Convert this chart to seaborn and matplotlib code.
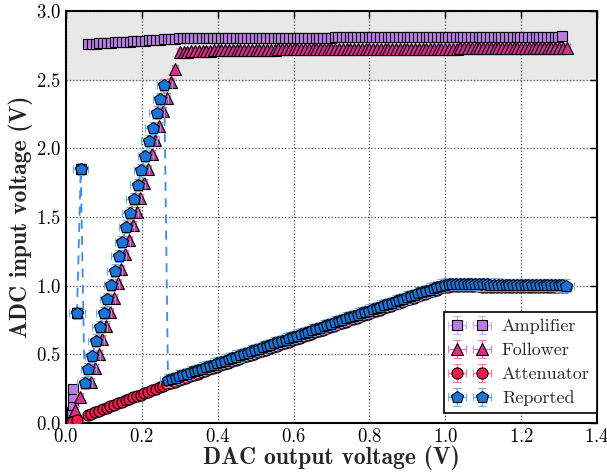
import matplotlib
matplotlib.use('Agg')
import matplotlib.pyplot as plt
import seaborn as sns

# Amplifier
amp_x = [0.016, 0.017, 0.018, 0.018, 0.019, 0.029, 0.039, 0.058, 0.068, 0.078,
         0.088, 0.098, 0.108, 0.118, 0.128, 0.138, 0.148, 0.158, 0.168, 0.178,
         0.188, 0.198, 0.208, 0.218, 0.228, 0.238, 0.248, 0.258, 0.268, 0.278,
         0.288, 0.298, 0.308, 0.318, 0.328, 0.338, 0.348, 0.358, 0.368, 0.378,
         0.388, 0.398, 0.408, 0.418, 0.428, 0.438, 0.448, 0.458, 0.468, 0.478,
         0.488, 0.498, 0.508, 0.518, 0.528, 0.538, 0.548, 0.558, 0.568, 0.578,
         0.588, 0.598, 0.608, 0.618, 0.628, 0.638, 0.648, 0.658, 0.668, 0.678,
         0.688, 0.698, 0.708, 0.718, 0.728, 0.738, 0.748, 0.758, 0.768, 0.778,
         0.788, 0.798, 0.808, 0.818, 0.828, 0.838, 0.848, 0.858, 0.868, 0.878,
         0.888, 0.898, 0.908, 0.918, 0.928, 0.938, 0.948, 0.958, 0.968, 0.978,
         0.988, 0.998, 1.008, 1.018, 1.028, 1.038, 1.048, 1.058, 1.068, 1.078,
         1.088, 1.098, 1.108, 1.118, 1.128, 1.138, 1.148, 1.158, 1.168, 1.178,
         1.188, 1.198, 1.208, 1.218, 1.228, 1.238, 1.248, 1.258, 1.268, 1.278,
         1.288, 1.298, 1.308]
amp_y = [0.04, 0.08, 0.13, 0.19, 0.25, 0.80, 1.85, 2.760, 2.762, 2.763,
         2.765, 2.767, 2.768, 2.770, 2.772, 2.773, 2.775, 2.777, 2.778, 2.780,
         2.782, 2.783, 2.785, 2.787, 2.788, 2.790, 2.792, 2.793, 2.795, 2.797,
         2.798, 2.800, 2.800, 2.801, 2.801, 2.801, 2.802, 2.802, 2.802, 2.802,
         2.803, 2.803, 2.803, 2.803, 2.803, 2.804, 2.804, 2.804, 2.804, 2.804,
         2.805, 2.805, 2.805, 2.805, 2.805, 2.805, 2.806, 2.806, 2.806, 2.806,
         2.806, 2.806, 2.806, 2.806, 2.807, 2.807, 2.807, 2.807, 2.807, 2.807,
         2.807, 2.807, 2.808, 2.808, 2.808, 2.808, 2.808, 2.808, 2.808, 2.808,
         2.808, 2.809, 2.809, 2.809, 2.809, 2.809, 2.809, 2.809, 2.809, 2.809,
         2.810, 2.810, 2.810, 2.810, 2.810, 2.810, 2.810, 2.810, 2.810, 2.810,
         2.810, 2.811, 2.811, 2.811, 2.811, 2.811, 2.811, 2.811, 2.811, 2.811,
         2.811, 2.811, 2.812, 2.812, 2.812, 2.812, 2.812, 2.812, 2.812, 2.812,
         2.812, 2.812, 2.812, 2.813, 2.813, 2.813, 2.813, 2.813, 2.813, 2.813,
         2.814, 2.814, 2.815]

# Follower
fol_x = [0.018, 0.025, 0.038, 0.066, 0.076, 0.086, 0.096, 0.106, 0.116, 0.126,
         0.136, 0.146, 0.156, 0.166, 0.176, 0.186, 0.196, 0.206, 0.216, 0.226,
         0.236, 0.246, 0.256, 0.266, 0.276, 0.288, 0.300, 0.310, 0.320, 0.330,
         0.340, 0.350, 0.360, 0.370, 0.380, 0.390, 0.400, 0.410, 0.420, 0.430,
         0.440, 0.450, 0.460, 0.470, 0.480, 0.490, 0.500, 0.510, 0.520, 0.530,
         0.540, 0.550, 0.560, 0.570, 0.580, 0.590, 0.600, 0.610, 0.620, 0.630,
         0.640, 0.650, 0.660, 0.670, 0.680, 0.690, 0.700, 0.710, 0.720, 0.730,
         0.740, 0.750, 0.760, 0.770, 0.780, 0.790, 0.800, 0.810, 0.820, 0.830,
         0.840, 0.850, 0.860, 0.870, 0.880, 0.890, 0.900, 0.910, 0.920, 0.930,
         0.940, 0.950, 0.960, 0.970, 0.980, 0.990, 1.000, 1.010, 1.020, 1.030,
         1.040, 1.050, 1.060, 1.070, 1.080, 1.090, 1.100, 1.110, 1.120, 1.130,
         1.140, 1.150, 1.160, 1.170, 1.180, 1.190, 1.200, 1.210, 1.220, 1.230,
         1.240, 1.250, 1.260, 1.270, 1.280, 1.290, 1.300, 1.310, 1.320]
fol_y = [0.04, 0.095, 0.19, 0.30, 0.40, 0.50, 0.61, 0.71, 0.81, 0.91,
         1.02, 1.12, 1.23, 1.33, 1.44, 1.54, 1.64, 1.75, 1.85, 1.96,
         2.06, 2.16, 2.27, 2.37, 2.48, 2.58, 2.700, 2.702, 2.704, 2.706,
         2.708, 2.709, 2.710, 2.711, 2.712, 2.713, 2.714, 2.714, 2.715, 2.715,
         2.716, 2.716, 2.717, 2.717, 2.717, 2.718, 2.718, 2.718, 2.719, 2.719,
         2.719, 2.719, 2.720, 2.720, 2.720, 2.720, 2.720, 2.721, 2.721, 2.721,
         2.721, 2.721, 2.722, 2.722, 2.722, 2.722, 2.722, 2.722, 2.723, 2.723,
         2.723, 2.723, 2.723, 2.723, 2.724, 2.724, 2.724, 2.724, 2.724, 2.724,
         2.725, 2.725, 2.725, 2.725, 2.725, 2.725, 2.726, 2.726, 2.726, 2.726,
         2.726, 2.726, 2.726, 2.727, 2.727, 2.727, 2.727, 2.727, 2.727, 2.727,
         2.728, 2.728, 2.728, 2.728, 2.728, 2.728, 2.728, 2.728, 2.729, 2.729,
         2.729, 2.729, 2.729, 2.729, 2.729, 2.729, 2.730, 2.730, 2.730, 2.730,
         2.730, 2.730, 2.730, 2.730, 2.731, 2.731, 2.731, 2.731, 2.731]

# Attenuator
att_x = [0.015, 0.030, 0.057, 0.067, 0.077, 0.087, 0.097, 0.107, 0.117, 0.127,
         0.137, 0.147, 0.157, 0.167, 0.177, 0.187, 0.197, 0.207, 0.217, 0.227,
         0.237, 0.247, 0.257, 0.267, 0.277, 0.287, 0.297, 0.307, 0.317, 0.327,
         0.337, 0.347, 0.357, 0.367, 0.377, 0.387, 0.397, 0.407, 0.417, 0.427,
         0.437, 0.447, 0.457, 0.467, 0.477, 0.487, 0.497, 0.507, 0.517, 0.527,
         0.537, 0.547, 0.557, 0.567, 0.577, 0.587, 0.597, 0.607, 0.617, 0.627,
         0.637, 0.647, 0.657, 0.667, 0.677, 0.687, 0.697, 0.707, 0.717, 0.727,
         0.737, 0.747, 0.757, 0.767, 0.777, 0.787, 0.797, 0.807, 0.817, 0.827,
         0.837, 0.847, 0.857, 0.867, 0.877, 0.887, 0.897, 0.907, 0.917, 0.927,
         0.937, 0.947, 0.957, 0.967, 0.977, 0.987, 0.997, 1.007, 1.017, 1.027,
         1.037, 1.047, 1.057, 1.067, 1.077, 1.087, 1.097, 1.107, 1.117, 1.127,
         1.137, 1.147, 1.157, 1.167, 1.177, 1.187, 1.197, 1.207, 1.217, 1.227,
         1.237, 1.247, 1.257, 1.267, 1.277, 1.287, 1.297, 1.307, 1.317]
att_y = [0.010, 0.020, 0.058, 0.069, 0.080, 0.090, 0.101, 0.111, 0.122, 0.133,
         0.143, 0.154, 0.164, 0.175, 0.186, 0.196, 0.207, 0.217, 0.228, 0.239,
         0.249, 0.260, 0.270, 0.283, 0.293, 0.302, 0.312, 0.322, 0.331, 0.341,
         0.351, 0.360, 0.370, 0.380, 0.390, 0.399, 0.409, 0.419, 0.428, 0.438,
         0.448, 0.457, 0.467, 0.477, 0.486, 0.496, 0.506, 0.515, 0.525, 0.535,
         0.544, 0.554, 0.564, 0.574, 0.583, 0.593, 0.603, 0.612, 0.622, 0.632,
         0.641, 0.651, 0.661, 0.670, 0.680, 0.690, 0.699, 0.709, 0.719, 0.728,
         0.738, 0.748, 0.757, 0.767, 0.777, 0.786, 0.796, 0.806, 0.815, 0.825,
         0.835, 0.844, 0.854, 0.864, 0.873, 0.883, 0.893, 0.902, 0.912, 0.922,
         0.932, 0.941, 0.951, 0.961, 0.970, 0.980, 0.989, 0.994, 0.996, 0.996,
         0.996, 0.996, 0.995, 0.995, 0.995, 0.995, 0.994, 0.994, 0.994, 0.994,
         0.994, 0.993, 0.993, 0.993, 0.993, 0.992, 0.992, 0.992, 0.992, 0.992,
         0.991, 0.991, 0.991, 0.991, 0.990, 0.990, 0.990, 0.990, 0.990]

# Reported
rep_x = [0.029, 0.039, 0.049, 0.059, 0.069, 0.079, 0.089, 0.099, 0.109, 0.119,
         0.129, 0.139, 0.149, 0.159, 0.169, 0.179, 0.189, 0.199, 0.209, 0.219,
         0.229, 0.239, 0.249, 0.259, 0.269, 0.279, 0.289, 0.299, 0.309, 0.319,
         0.329, 0.339, 0.349, 0.359, 0.369, 0.379, 0.389, 0.399, 0.409, 0.419,
         0.429, 0.439, 0.449, 0.459, 0.469, 0.479, 0.489, 0.499, 0.509, 0.519,
         0.529, 0.539, 0.549, 0.559, 0.569, 0.579, 0.589, 0.599, 0.609, 0.619,
         0.629, 0.639, 0.649, 0.659, 0.669, 0.679, 0.689, 0.699, 0.709, 0.719,
         0.729, 0.739, 0.749, 0.759, 0.769, 0.779, 0.789, 0.799, 0.809, 0.819,
         0.829, 0.839, 0.849, 0.859, 0.869, 0.879, 0.889, 0.899, 0.909, 0.919,
         0.929, 0.939, 0.949, 0.959, 0.969, 0.979, 0.989, 0.999, 1.009, 1.019,
         1.029, 1.039, 1.049, 1.059, 1.069, 1.079, 1.089, 1.099, 1.109, 1.119,
         1.129, 1.139, 1.149, 1.159, 1.169, 1.179, 1.189, 1.199, 1.209, 1.219,
         1.229, 1.239, 1.249, 1.259, 1.269, 1.279, 1.289, 1.299, 1.309, 1.319]
rep_y = [0.80, 1.85, 0.29, 0.39, 0.49, 0.60, 0.70, 0.80, 0.90, 1.005,
         1.11, 1.215, 1.32, 1.43, 1.53, 1.63, 1.735, 1.84, 1.945, 2.05,
         2.15, 2.26, 2.36, 2.46, 0.310, 0.320, 0.329, 0.339, 0.348, 0.358,
         0.368, 0.377, 0.387, 0.396, 0.406, 0.416, 0.425, 0.435, 0.444, 0.454,
         0.464, 0.473, 0.483, 0.492, 0.502, 0.512, 0.521, 0.531, 0.540, 0.550,
         0.560, 0.569, 0.579, 0.588, 0.598, 0.608, 0.617, 0.627, 0.636, 0.646,
         0.656, 0.665, 0.675, 0.684, 0.694, 0.704, 0.713, 0.723, 0.732, 0.742,
         0.752, 0.761, 0.771, 0.780, 0.790, 0.800, 0.809, 0.819, 0.828, 0.838,
         0.848, 0.857, 0.867, 0.876, 0.886, 0.896, 0.905, 0.915, 0.924, 0.934,
         0.944, 0.953, 0.963, 0.972, 0.982, 0.992, 1.000, 1.008, 1.012, 1.012,
         1.011, 1.011, 1.011, 1.010, 1.010, 1.010, 1.009, 1.009, 1.009, 1.008,
         1.008, 1.008, 1.007, 1.007, 1.007, 1.006, 1.006, 1.006, 1.005, 1.005,
         1.005, 1.004, 1.004, 1.004, 1.003, 1.003, 1.003, 1.002, 1.002, 1.001]

x_ticks = [0.0, 0.2, 0.4, 0.6, 0.8, 1.0, 1.2, 1.4]
y_ticks = [0.0, 0.5, 1.0, 1.5, 2.0, 2.5, 3.0]

sns.set_style('white')
plt.rcParams['font.family'] = ['cmr10', 'DejaVu Serif']
plt.rcParams['axes.formatter.use_mathtext'] = True
plt.rcParams['mathtext.fontset'] = 'cm'

fig, ax = plt.subplots(figsize=(6.07, 4.73), dpi=100)
fig.subplots_adjust(left=0.1087, right=0.9835, top=0.9767, bottom=0.1057)

ax.axhspan(2.5, 3.0, color='#e8e8e8', zorder=0.2)
ax.grid(True, ls=':', color='0.3', lw=0.9, zorder=0.5)
ax.set_axisbelow(True)

amp_c, fol_c, att_c, rep_c = '#bb7ae6', '#d6308c', '#f21a4b', '#1976d8'

ax.errorbar(amp_x, amp_y, xerr=0.008, yerr=0.02, fmt='s', ms=7.5, mfc=amp_c,
            mec='k', mew=0.8, ecolor='#d9a9f2', elinewidth=1, capsize=3,
            label='Amplifier', zorder=2)
ax.errorbar(fol_x, fol_y, xerr=0.008, yerr=0.03, fmt='^', ms=9, mfc=fol_c,
            mec='k', mew=0.8, ecolor='#ea7cbd', elinewidth=1, capsize=3,
            label='Follower', zorder=3)
ax.errorbar(att_x, att_y, xerr=0.008, yerr=0.02, fmt='o', ms=8, mfc=att_c,
            mec='k', mew=0.8, ecolor='#f77a96', elinewidth=1, capsize=3,
            label='Attenuator', zorder=4)
sns.lineplot(x=rep_x, y=rep_y, sort=False, estimator=None, ax=ax,
             color='#3a8ee8', lw=1.3, linestyle=(0, (5, 4)), zorder=5,
             legend=False)
ax.errorbar(rep_x, rep_y, xerr=0.02, yerr=0.045, fmt='p', ms=9, mfc=rep_c,
            mec='k', mew=0.8, ecolor='#6cb0f2', elinewidth=1, capsize=3,
            label='Reported', zorder=6)

ax.set_xlim(0, 1.4)
ax.set_ylim(0, 3.0)
ax.set_xticks(x_ticks)
ax.set_yticks(y_ticks)
ax.tick_params(direction='in', top=True, right=True, length=5, width=1,
               labelsize=13.5, colors='k')
for s in ax.spines.values():
    s.set_color('k')
    s.set_linewidth(1.5)

ax.set_xlabel('DAC output voltage (V)', fontfamily='cmb10', fontsize=17,
              labelpad=0)
ax.set_ylabel('ADC input voltage (V)', fontfamily='cmb10', fontsize=17,
              labelpad=2)

leg = ax.legend(loc='lower right', bbox_to_anchor=(1.0, 0.024), numpoints=2,
                prop={'family': 'cmr10', 'size': 13}, frameon=True,
                fancybox=False, edgecolor='k', framealpha=1,
                labelspacing=0.45, borderaxespad=0.0)
leg.get_frame().set_linewidth(1.2)

fig.savefig('out.png', dpi=100)
